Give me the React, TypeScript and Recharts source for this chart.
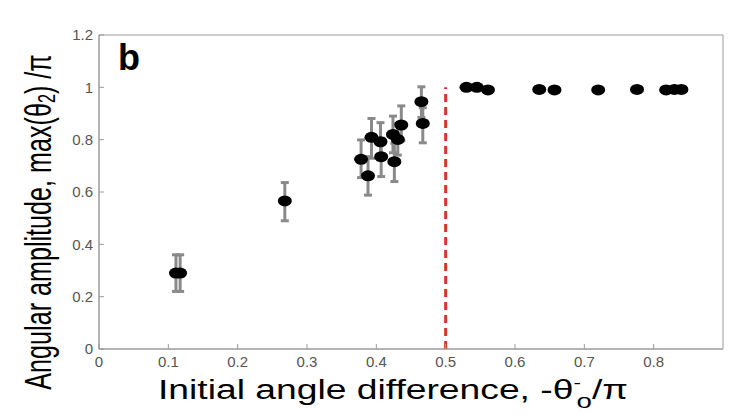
import React from "react";
import {
  ScatterChart,
  Scatter,
  XAxis,
  YAxis,
  ErrorBar,
  ReferenceLine,
  ReferenceArea,
} from "recharts";

// measured runs below the threshold, with spread across trials
const angleDiff = [0.111, 0.117, 0.268, 0.378, 0.388, 0.393, 0.406, 0.407, 0.424, 0.426, 0.431, 0.436, 0.465, 0.467];
const amplitude = [0.29, 0.29, 0.566, 0.725, 0.662, 0.809, 0.792, 0.735, 0.82, 0.716, 0.801, 0.856, 0.945, 0.862];
const errLow = [0.07, 0.07, 0.076, 0.07, 0.074, 0.08, 0.07, 0.076, 0.07, 0.076, 0.06, 0.06, 0.06, 0.074];
const errHigh = [0.07, 0.07, 0.07, 0.074, 0.073, 0.072, 0.073, 0.07, 0.07, 0.07, 0.06, 0.073, 0.057, 0.06];

// runs past the threshold, amplitude saturates near 1
const flatAngle = [0.53, 0.545, 0.561, 0.635, 0.657, 0.72, 0.776, 0.818, 0.83, 0.84];
const flatAmp = [1.0, 1.0, 0.99, 0.992, 0.99, 0.99, 0.992, 0.99, 0.992, 0.992];

const xTicks = [0, 0.1, 0.2, 0.3, 0.4, 0.5, 0.6, 0.7, 0.8];
const yTicks = [0, 0.2, 0.4, 0.6, 0.8, 1, 1.2];
const threshold = 0.5;

const measured = angleDiff.map((x, i) => ({ x, y: amplitude[i], err: [errLow[i], errHigh[i]] }));
const saturated = flatAngle.map((x, i) => ({ x, y: flatAmp[i] }));

const FONT = "'Liberation Sans', Arial, sans-serif";
const AXIS = "#9a9a9a";

const Dot = (p: any) => <ellipse cx={p.cx} cy={p.cy} rx={7} ry={5.5} fill="#000" />;

// axis titles are stretched differently along x and y, like the exported figure
const YTitle = () => (
  <text
    transform="translate(38,222) rotate(-90) scale(0.68,1)"
    textAnchor="middle"
    dominantBaseline="central"
    fontFamily={FONT}
    fontSize={37}
    fill="#000"
  >
    Angular amplitude, max(θ
    <tspan fontSize={24} dy={8}>2</tspan>
    <tspan dy={-8}>) /π</tspan>
  </text>
);

const XTitle = () => (
  <text transform="translate(393,399) scale(1.38,1)" textAnchor="middle" fontFamily={FONT} fontSize={27} fill="#000">
    Initial angle difference, -θ
    <tspan fontSize={16} dy={-11}>-</tspan>
    <tspan fontSize={20} dy={20} dx={-3}>o</tspan>
    <tspan dy={-9}>/π</tspan>
  </text>
);

const PanelTag = (p: any) => {
  const vb = p.viewBox;
  return (
    <text x={vb.x + 19} y={vb.y + 35} fontFamily={FONT} fontWeight="bold" fontSize={36} fill="#000">
      b
    </text>
  );
};

export default function App() {
  return (
    <div style={{ position: "absolute", left: 0, top: 0, background: "#fff" }}>
      <ScatterChart width={729} height={414} margin={{ top: 35, right: 6, bottom: 0, left: 0 }}>
        <ReferenceArea
          x1={0}
          x2={0.9}
          y1={0}
          y2={1.2}
          fill="none"
          stroke={AXIS}
          strokeWidth={1}
          ifOverflow="visible"
          label={<PanelTag />}
        />
        <XAxis
          type="number"
          dataKey="x"
          domain={[0, 0.9]}
          ticks={xTicks}
          allowDataOverflow
          height={65}
          tickSize={-5}
          tickMargin={12}
          stroke={AXIS}
          tick={{ fontSize: 15, fill: "#555", fontFamily: FONT }}
          label={<XTitle />}
        />
        <YAxis
          type="number"
          dataKey="y"
          domain={[0, 1.2]}
          ticks={yTicks}
          width={99}
          tickSize={-5}
          tickMargin={11}
          stroke={AXIS}
          tick={{ fontSize: 15, fill: "#555", fontFamily: FONT }}
          label={<YTitle />}
        />
        <ReferenceLine
          segment={[
            { x: threshold, y: 0 },
            { x: threshold, y: 1 },
          ]}
          stroke="#d8352c"
          strokeWidth={3}
          strokeDasharray="8 5"
        />
        <Scatter data={measured} shape={Dot} isAnimationActive={false}>
          <ErrorBar dataKey="err" direction="y" width={4} stroke="#8a8a8a" strokeWidth={3} />
        </Scatter>
        <Scatter data={saturated} shape={Dot} isAnimationActive={false} />
      </ScatterChart>
    </div>
  );
}
